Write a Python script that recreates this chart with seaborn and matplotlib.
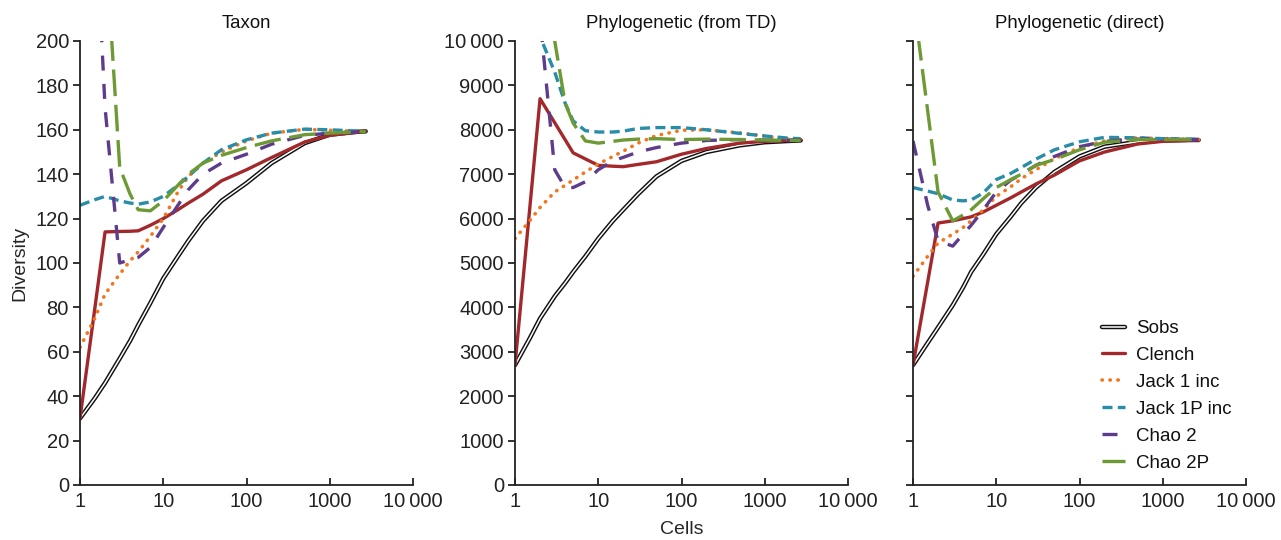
import numpy as np
import pandas as pd
import matplotlib
matplotlib.use("Agg")
import matplotlib.pyplot as plt
import matplotlib.patheffects as pe
import seaborn as sns

# ---------------- data ----------------
CELLS = [1, 1.5, 2, 3, 4, 5, 7, 10, 15, 20, 30, 50, 100, 200, 500, 1000, 2000, 2700]

SERIES = ["Sobs", "Clench", "Jack 1 inc", "Jack 1P inc", "Chao 2", "Chao 2P"]

# Panel 1: Taxon
taxon_sobs   = [30, 39, 46, 57, 65, 72, 82, 93, 103, 110, 119, 128, 136, 145, 154, 157.8, 159, 159.3]
taxon_clench = [30, 79, 114, 114.2, 114.3, 114.5, 117, 120, 124, 127, 131, 137, 142, 147.5, 154.5, 157.5, 158.8, 159.3]
taxon_jack1  = [62, 75, 86, 95, 101, 105, 112, 120, 132, 139, 145, 150, 155, 158.5, 160.2, 159.8, 159.3, 159.2]
taxon_jack1p = [126, 128.5, 130, 128, 127, 126.5, 127.5, 130, 135, 139, 145, 151, 155.5, 158.5, 160.3, 160, 159.5, 159]
taxon_chao2  = [400, 265, 170, 100, 101.5, 102.5, 107, 116, 126, 133, 140, 145, 149, 153.5, 157.5, 158.5, 159, 159.3]
taxon_chao2p = [600, 394, 248, 143, 131, 124, 123.5, 128, 135, 140, 145, 148.5, 152, 155, 157.8, 158.5, 159, 159.3]

# Panel 2: Phylogenetic (from TD)
ptd_sobs   = [2700, 3300, 3750, 4250, 4550, 4800, 5150, 5550, 5950, 6200, 6550, 6950, 7300, 7500, 7650, 7720, 7750, 7760]
ptd_clench = [2700, 6210, 8700, 8160, 7777, 7480, 7344, 7200, 7180, 7170, 7220, 7280, 7450, 7580, 7700, 7740, 7760, 7770]
ptd_jack1  = [5550, 5950, 6250, 6600, 6750, 6870, 7050, 7230, 7400, 7520, 7700, 7870, 7990, 8000, 7930, 7860, 7790, 7780]
ptd_jack1p = [14000, 11720, 10100, 9300, 8600, 8200, 7980, 7950, 7950, 7970, 8030, 8050, 8050, 8000, 7920, 7860, 7810, 7800]
ptd_chao2  = [15000, 12400, 10500, 7100, 6700, 6700, 6830, 7100, 7300, 7380, 7500, 7600, 7700, 7760, 7780, 7770, 7760, 7770]
ptd_chao2p = [20000, 16500, 14000, 10000, 8600, 8150, 7750, 7700, 7740, 7770, 7790, 7800, 7780, 7790, 7780, 7770, 7760, 7760]

# Panel 3: Phylogenetic (direct)
pd_sobs   = [2700, 3200, 3550, 4050, 4450, 4800, 5200, 5650, 6050, 6350, 6700, 7050, 7400, 7620, 7730, 7760, 7770, 7770]
pd_clench = [2700, 4570, 5900, 5950, 6000, 6040, 6150, 6300, 6470, 6600, 6780, 6980, 7300, 7500, 7680, 7740, 7760, 7770]
pd_jack1  = [4700, 5150, 5450, 5650, 5800, 5950, 6200, 6500, 6720, 6900, 7100, 7350, 7600, 7750, 7820, 7800, 7790, 7780]
pd_jack1p = [6700, 6620, 6560, 6420, 6400, 6420, 6580, 6880, 7020, 7150, 7340, 7550, 7730, 7830, 7820, 7800, 7790, 7780]
pd_chao2  = [7750, 6300, 5500, 5380, 5650, 5850, 6200, 6600, 6870, 7000, 7200, 7400, 7620, 7740, 7790, 7790, 7780, 7780]
pd_chao2p = [11000, 8430, 6600, 5950, 6080, 6200, 6450, 6700, 6880, 7000, 7200, 7330, 7550, 7720, 7780, 7780, 7780, 7780]

TITLES = ["Taxon", "Phylogenetic (from TD)", "Phylogenetic (direct)"]
X_TICKS = [1, 10, 100, 1000, 10000]
X_TICK_LABELS = ["1", "10", "100", "1000", "10\u2009000"]
Y1_TICKS = list(range(0, 201, 20))
Y2_TICKS = list(range(0, 10001, 1000))
Y2_TICK_LABELS = [str(v) for v in Y2_TICKS[:-1]] + ["10\u2009000"]

panels = [
    [taxon_sobs, taxon_clench, taxon_jack1, taxon_jack1p, taxon_chao2, taxon_chao2p],
    [ptd_sobs, ptd_clench, ptd_jack1, ptd_jack1p, ptd_chao2, ptd_chao2p],
    [pd_sobs, pd_clench, pd_jack1, pd_jack1p, pd_chao2, pd_chao2p],
]

# ---------------- styles ----------------
STYLES = {
    "Sobs":        dict(color="white", lw=1.1, ls="-",
                        path_effects=[pe.Stroke(linewidth=3.2, foreground="#111111"), pe.Normal()]),
    "Clench":      dict(color="#A3282B", lw=2.4, ls="-"),
    "Jack 1 inc":  dict(color="#F2761E", lw=2.6, ls=(0, (0.1, 2.1)), dash_capstyle="round"),
    "Jack 1P inc": dict(color="#2A8DA8", lw=2.4, ls=(0, (3.0, 1.6))),
    "Chao 2":      dict(color="#5E3C8C", lw=2.4, ls=(0, (4.5, 4.0))),
    "Chao 2P":     dict(color="#6D9A34", lw=2.4, ls=(0, (8.0, 2.6))),
}

TICK_FS = 14.5
LABEL_FS = 14
TITLE_FS = 13.4
LEG_FS = 13.5

sns.set_style("ticks")
plt.rcParams["font.family"] = ["Liberation Sans", "DejaVu Sans"]
plt.rcParams["axes.edgecolor"] = "#222222"
plt.rcParams["xtick.color"] = "#222222"
plt.rcParams["ytick.color"] = "#222222"
plt.rcParams["text.color"] = "#111111"

fig = plt.figure(figsize=(12.81, 5.40), dpi=100)
W, H = 1281, 540
lefts = [80, 515, 913]
width_px = 333
bottom_px, top_px = 485, 41

axes = []
for i, left in enumerate(lefts):
    ax = fig.add_axes([left / W, 1 - bottom_px / H, width_px / W, (bottom_px - top_px) / H])
    axes.append(ax)
    for name, vals in zip(SERIES, panels[i]):
        st = dict(STYLES[name])
        ls = st.pop("ls")
        df = pd.DataFrame({"Cells": CELLS, "Diversity": vals})
        sns.lineplot(data=df, x="Cells", y="Diversity", ax=ax, estimator=None, sort=False,
                     linestyle=ls, label=name if i == 2 else None, legend=False, **st)
    ax.set_xscale("log")
    ax.set_xlim(1, 10000)
    ax.set_xticks(X_TICKS)
    ax.set_xticklabels(X_TICK_LABELS)
    ax.xaxis.set_minor_locator(matplotlib.ticker.NullLocator())
    ax.set_title(TITLES[i], fontsize=TITLE_FS, pad=9)
    ax.set_xlabel("")
    ax.set_ylabel("")
    sns.despine(ax=ax)
    for s in ("left", "bottom"):
        ax.spines[s].set_linewidth(1.3)
    ax.tick_params(axis="x", direction="in", length=5, width=1.3, labelsize=TICK_FS, pad=5)
    ax.tick_params(axis="y", direction="out", length=5, width=1.3, labelsize=TICK_FS, pad=3)

axes[0].set_ylim(0, 200)
axes[0].set_yticks(Y1_TICKS)
axes[0].set_ylabel("Diversity", fontsize=LABEL_FS, labelpad=5)

for ax in axes[1:]:
    ax.set_ylim(0, 10000)
    ax.set_yticks(Y2_TICKS)
axes[1].set_yticklabels(Y2_TICK_LABELS)
axes[2].set_yticklabels([])
axes[1].set_xlabel("Cells", fontsize=LABEL_FS, labelpad=7)

handles, labels = axes[2].get_legend_handles_labels()
leg = fig.legend(handles, labels, loc="upper left",
                 bbox_to_anchor=(1102 / W, 1 - 320 / H), bbox_transform=fig.transFigure,
                 frameon=False, fontsize=LEG_FS, handlelength=1.2, handletextpad=0.62,
                 labelspacing=0.52, borderpad=0, borderaxespad=0)

fig.savefig("out.png", dpi=100)
